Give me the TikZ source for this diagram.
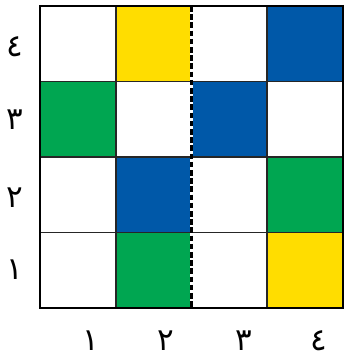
\documentclass[tikz,border=0pt]{standalone}
\usepackage{fontspec}
\newfontfamily\arabicfont[Script=Arabic]{DejaVu Sans}
\definecolor{cyellow}{HTML}{FFDD00}
\definecolor{cgreen}{HTML}{00A651}
\definecolor{cblue}{HTML}{0058A8}
\begin{document}
\begin{tikzpicture}[x=1pt,y=-1pt,
  lbl/.style={font=\arabicfont\fontsize{31}{36}\selectfont, inner sep=0pt},
  gridline/.style={line width=1.8pt, draw=black!85},
  frame/.style={line width=2.2pt, draw=black}]
\useasboundingbox (0,0) rectangle (344,362);
\def\cw{75.75}\def\ch{75.5}
% coloured cells (col, row from top)
\fill[cyellow] (40+\cw,6) rectangle ++(\cw,\ch);
\fill[cblue]   (40+3*\cw,6) rectangle ++(\cw,\ch);
\fill[cgreen]  (40,6+\ch) rectangle ++(\cw,\ch);
\fill[cblue]   (40+2*\cw,6+\ch) rectangle ++(\cw,\ch);
\fill[cblue]   (40+\cw,6+2*\ch) rectangle ++(\cw,\ch);
\fill[cgreen]  (40+3*\cw,6+2*\ch) rectangle ++(\cw,\ch);
\fill[cgreen]  (40+\cw,6+3*\ch) rectangle ++(\cw,\ch);
\fill[cyellow] (40+3*\cw,6+3*\ch) rectangle ++(\cw,\ch);
% grid lines
\foreach \i in {1,3} \draw[gridline] (40+\i*\cw,6) -- (40+\i*\cw,6+4*\ch);
\foreach \j in {1,2,3} \draw[gridline] (40,6+\j*\ch) -- (40+4*\cw,6+\j*\ch);
\fill[white] (40+2*\cw-1.2,6) rectangle (40+2*\cw+1.2,6+4*\ch);
\draw[line width=2.4pt, dash pattern=on 5.5pt off 2.7pt] (40+2*\cw,6) -- (40+2*\cw,6+4*\ch);
\draw[frame] (40,6) rectangle (40+4*\cw,6+4*\ch);
% row labels
\node[lbl] (r4) at (15,47) {٤};
\node[lbl] (r3) at (15,120) {٣};
\node[lbl] (r2) at (15,198) {٢};
\node[lbl] (r1) at (15,270) {١};
% column labels
\node[lbl] (c1) at (91,341) {١};
\node[lbl] (c2) at (166,341) {٢};
\node[lbl] (c3) at (244,341) {٣};
\node[lbl] (c4) at (319,341) {٤};
\end{tikzpicture}
\end{document}
